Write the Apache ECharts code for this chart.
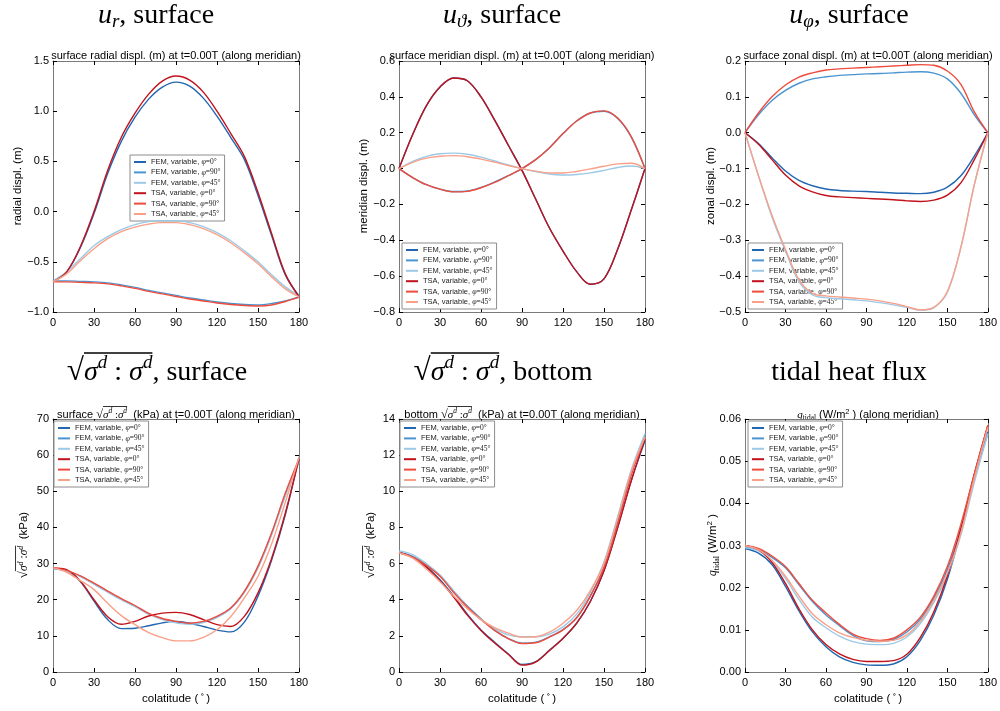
<!DOCTYPE html>
<html><head><meta charset="utf-8">
<script src="https://cdn.jsdelivr.net/npm/echarts@6.0.0/dist/echarts.min.js"></script>
<style>html,body{margin:0;padding:0;background:#fff}#c{width:1000px;height:711px}</style>
</head><body><div id="c"></div>
<script>
// ---------- data (colatitude in degrees) ----------
const THETA = [0,10,20,30,40,50,60,70,80,90,100,110,120,130,140,150,160,170,180];
const SERIES_NAMES = ['FEM, variable, φ=0°','FEM, variable, φ=90°','FEM, variable, φ=45°','TSA, variable, φ=0°','TSA, variable, φ=90°','TSA, variable, φ=45°'];

// u_r surface (m)
const UR_FEM_0  = [-0.69,-0.60,-0.36,-0.02,0.38,0.70,0.94,1.12,1.24,1.29,1.25,1.13,0.95,0.74,0.52,0.16,-0.24,-0.63,-0.84];
const UR_FEM_90 = [-0.69,-0.69,-0.695,-0.70,-0.71,-0.73,-0.755,-0.785,-0.81,-0.835,-0.86,-0.88,-0.90,-0.915,-0.925,-0.93,-0.915,-0.89,-0.85];
const UR_FEM_45 = [-0.69,-0.60,-0.47,-0.34,-0.25,-0.18,-0.13,-0.10,-0.09,-0.09,-0.11,-0.15,-0.21,-0.29,-0.39,-0.50,-0.63,-0.75,-0.84];
const UR_TSA_0  = [-0.70,-0.60,-0.35,0.00,0.41,0.74,0.98,1.17,1.30,1.35,1.31,1.19,1.00,0.78,0.55,0.19,-0.22,-0.62,-0.85];
const UR_TSA_90 = [-0.70,-0.70,-0.705,-0.71,-0.72,-0.74,-0.765,-0.795,-0.82,-0.845,-0.87,-0.89,-0.91,-0.925,-0.935,-0.94,-0.93,-0.895,-0.855];
const UR_TSA_45 = [-0.70,-0.62,-0.49,-0.37,-0.27,-0.20,-0.155,-0.125,-0.11,-0.11,-0.13,-0.17,-0.23,-0.31,-0.41,-0.52,-0.65,-0.77,-0.85];

// u_theta surface (m)
const UT_FEM_0  = [0,0.19,0.35,0.455,0.505,0.49,0.40,0.27,0.13,-0.01,-0.17,-0.33,-0.46,-0.575,-0.645,-0.615,-0.45,-0.23,0];
const UT_FEM_90 = [0,-0.05,-0.09,-0.115,-0.128,-0.125,-0.105,-0.075,-0.04,0,0.05,0.115,0.195,0.265,0.31,0.32,0.28,0.175,0];
const UT_FEM_45 = [0,0.04,0.068,0.083,0.086,0.08,0.064,0.042,0.02,0,-0.017,-0.03,-0.036,-0.033,-0.024,-0.01,0.006,0.014,0];
const UT_TSA_0  = [0,0.19,0.35,0.455,0.505,0.49,0.40,0.27,0.13,-0.01,-0.17,-0.33,-0.46,-0.575,-0.645,-0.615,-0.45,-0.23,0];
const UT_TSA_90 = [0,-0.05,-0.09,-0.115,-0.13,-0.127,-0.107,-0.077,-0.04,0,0.05,0.115,0.195,0.265,0.31,0.322,0.282,0.177,0];
const UT_TSA_45 = [0,0.035,0.058,0.069,0.072,0.066,0.053,0.036,0.017,0,-0.014,-0.024,-0.025,-0.016,-0.002,0.013,0.026,0.03,0];

// u_phi surface (m)
const UP_FEM_0  = [0,-0.03,-0.07,-0.107,-0.133,-0.148,-0.157,-0.161,-0.163,-0.164,-0.166,-0.168,-0.169,-0.17,-0.166,-0.152,-0.12,-0.065,0];
const UP_FEM_90 = [0,0.05,0.09,0.118,0.138,0.15,0.156,0.16,0.162,0.164,0.165,0.167,0.169,0.17,0.166,0.15,0.11,0.05,0];
const UP_FEM_45 = [0,-0.12,-0.235,-0.33,-0.415,-0.452,-0.46,-0.463,-0.466,-0.469,-0.474,-0.48,-0.487,-0.495,-0.488,-0.445,-0.32,-0.145,0];
const UP_TSA_0  = [0,-0.032,-0.075,-0.118,-0.148,-0.165,-0.175,-0.179,-0.181,-0.183,-0.185,-0.187,-0.19,-0.192,-0.188,-0.174,-0.14,-0.075,0];
const UP_TSA_90 = [0,0.055,0.10,0.133,0.155,0.167,0.175,0.178,0.18,0.182,0.184,0.186,0.188,0.19,0.188,0.172,0.135,0.058,0];
const UP_TSA_45 = [0,-0.12,-0.23,-0.325,-0.41,-0.448,-0.455,-0.458,-0.461,-0.464,-0.469,-0.476,-0.485,-0.494,-0.487,-0.443,-0.32,-0.145,0];

// sqrt(sigma_d : sigma_d) surface (kPa)
const SS_FEM_0  = [28.6,28.1,25.0,19.6,14.5,12.0,12.1,12.8,13.6,14.0,13.5,12.6,11.6,11.1,13.8,21.0,31.0,43.5,59.5];
const SS_FEM_90 = [28.6,28.0,26.5,24.4,22.2,20.1,18.2,16.1,14.7,13.9,13.4,13.8,15.2,17.6,22.2,29.0,38.3,49.0,58.5];
const SS_FEM_45 = [28.6,27.9,26.4,24.3,22.1,20.0,18.1,16.0,14.5,13.6,13.2,13.7,15.1,17.5,22.0,28.8,38.0,48.8,58.0];
const SS_TSA_0  = [28.8,28.3,25.2,20.0,15.3,13.2,14.0,15.5,16.3,16.5,15.9,14.5,13.1,12.6,15.4,21.9,31.5,44.0,59.0];
const SS_TSA_90 = [28.8,28.1,26.6,24.6,22.4,20.3,18.4,16.2,14.8,14.0,13.5,14.0,15.4,17.7,22.3,29.3,38.5,49.5,59.0];
const SS_TSA_45 = [28.8,27.6,25.3,22.8,19.0,15.6,13.1,10.9,9.5,8.6,8.6,9.6,11.7,15.3,20.5,26.5,35.5,47.0,59.5];

// sqrt(sigma_d : sigma_d) bottom (kPa)
const BS_FEM_0  = [6.6,6.35,5.85,5.1,4.2,3.2,2.33,1.65,1.0,0.42,0.57,1.2,1.87,2.7,3.9,5.6,8.0,10.6,12.8];
const BS_FEM_90 = [6.65,6.4,5.95,5.35,4.45,3.65,2.95,2.3,1.85,1.6,1.65,1.95,2.35,3.0,4.2,5.8,8.3,11.0,13.1];
const BS_FEM_45 = [6.7,6.5,6.0,5.35,4.5,3.6,2.9,2.4,2.05,1.95,1.95,2.1,2.5,3.2,4.4,6.1,8.6,11.2,13.2];
const BS_TSA_0  = [6.6,6.35,5.8,5.05,4.15,3.15,2.3,1.6,0.98,0.38,0.55,1.18,1.85,2.7,3.9,5.6,8.0,10.6,12.9];
const BS_TSA_90 = [6.6,6.35,5.9,5.3,4.4,3.6,2.9,2.3,1.85,1.58,1.62,1.93,2.33,3.0,4.2,5.8,8.2,10.9,13.0];
const BS_TSA_45 = [6.6,6.3,5.7,5.0,4.2,3.5,2.9,2.45,2.15,1.93,1.95,2.2,2.7,3.4,4.5,6.0,8.5,11.1,13.0];

// tidal heat flux (W/m^2)
const HF_FEM_0  = [0.0293,0.0282,0.0255,0.0203,0.0145,0.0095,0.006,0.0036,0.0023,0.0017,0.0016,0.0019,0.0036,0.0075,0.0135,0.022,0.0335,0.0465,0.057];
const HF_FEM_90 = [0.0295,0.029,0.0272,0.0247,0.0207,0.0167,0.0135,0.011,0.0087,0.0074,0.0072,0.0077,0.0095,0.0125,0.0175,0.0243,0.034,0.046,0.0565];
const HF_FEM_45 = [0.0295,0.0287,0.0262,0.0222,0.0172,0.013,0.0105,0.0085,0.0072,0.0066,0.0065,0.0068,0.0083,0.0115,0.0165,0.023,0.0325,0.045,0.0565];
const HF_TSA_0  = [0.030,0.029,0.026,0.021,0.015,0.010,0.0065,0.0043,0.003,0.0025,0.0025,0.0027,0.0042,0.0082,0.0143,0.0228,0.034,0.047,0.0585];
const HF_TSA_90 = [0.030,0.0293,0.0275,0.025,0.021,0.017,0.014,0.0113,0.009,0.0079,0.0075,0.008,0.010,0.013,0.018,0.025,0.035,0.047,0.0585];
const HF_TSA_45 = [0.030,0.029,0.0265,0.0227,0.018,0.0138,0.0112,0.0093,0.0082,0.0075,0.0073,0.0075,0.0088,0.012,0.017,0.0234,0.033,0.046,0.058];

// ---------- styling ----------
const SERIES_COLORS = ['#2166b0','#4a94d0','#9cc9e6','#c1121c','#ee4c3c','#f9a089'];
const SERIF = '"Liberation Serif","DejaVu Serif",serif';
const SANS = '"Liberation Sans","DejaVu Sans",sans-serif';
const FRAME = '#7a7a7a';

const PANELS = [
  {left:53,  top:61,  h:251, min:-1,   max:1.5,  step:0.5,  dec:1, data:[UR_FEM_0,UR_FEM_90,UR_FEM_45,UR_TSA_0,UR_TSA_90,UR_TSA_45], lg:[130,155]},
  {left:399, top:61,  h:251, min:-0.8, max:0.6,  step:0.2,  dec:1, data:[UT_FEM_0,UT_FEM_90,UT_FEM_45,UT_TSA_0,UT_TSA_90,UT_TSA_45], lg:[402,243]},
  {left:745, top:61,  h:251, min:-0.5, max:0.2,  step:0.1,  dec:1, data:[UP_FEM_0,UP_FEM_90,UP_FEM_45,UP_TSA_0,UP_TSA_90,UP_TSA_45], lg:[748,243]},
  {left:53,  top:419, h:253, min:0,    max:70,   step:10,   dec:0, data:[SS_FEM_0,SS_FEM_90,SS_FEM_45,SS_TSA_0,SS_TSA_90,SS_TSA_45], lg:[54,421]},
  {left:399, top:419, h:253, min:0,    max:14,   step:2,    dec:0, data:[BS_FEM_0,BS_FEM_90,BS_FEM_45,BS_TSA_0,BS_TSA_90,BS_TSA_45], lg:[400,421]},
  {left:745, top:419, h:253, min:0,    max:0.06, step:0.01, dec:2, data:[HF_FEM_0,HF_FEM_90,HF_FEM_45,HF_TSA_0,HF_TSA_90,HF_TSA_45], lg:[748,421]}
];
const GW = 246;

// ---------- small math-text typesetter for graphic labels ----------
const mctx = document.createElement('canvas').getContext('2d');
const KMID = 0.2;
function fontStr(p){ return (p.it ? 'italic ' : '') + p.size + 'px ' + (p.fam || SANS); }
function mathLabel(pieces, cx, cy, o) {
  o = o || {};
  let x = 0; const laid = [];
  pieces.forEach(p => { const f = fontStr(p); mctx.font = f; const w = mctx.measureText(p.t).width; laid.push({p, f, x, w}); x += w; });
  const total = x; const children = []; let ox0 = null, ox1 = null;
  laid.forEach(it => {
    const X = it.x - total / 2;
    children.push({type:'text', silent:true, style:{text: it.p.t, x: X, y: (it.p.dy || 0) - KMID * it.p.size, font: it.f, fill:'#000', align:'left', verticalAlign:'middle', textAlign:'left', textVerticalAlign:'middle'}});
    if (it.p.ov) { if (ox0 === null) ox0 = X; ox1 = X + it.w; }
  });
  if (ox0 !== null) children.push({type:'line', silent:true, shape:{x1: ox0 - (o.ovPad || 0), y1: o.ovY, x2: ox1 + (o.ovExt || 0), y2: o.ovY}, style:{stroke:'#000', lineWidth: o.ovW || 1}});
  return {type:'group', x: cx, y: cy, rotation: o.rot || 0, children};
}
const T = (t, size, extra) => Object.assign({t, size}, extra || {});

function sqrtPieces(s, small, sub, fam) {
  return [
    T('√', s * 1.12, {fam: SERIF}),
    T('σ', s, {fam: SERIF, it: true, ov: true}),
    T('d', small, {fam: SERIF, it: true, dy: -sub, ov: true}),
    T(fam === 'title' ? ' : ' : ' :', s, {fam: SERIF, ov: true}),
    T('σ', s, {fam: SERIF, it: true, ov: true}),
    T('d', small, {fam: SERIF, it: true, dy: -sub, ov: true})
  ];
}

const graphics = [];
// main titles
const MT = 28, MS = 19;
graphics.push(mathLabel([T('u', MT, {fam:SERIF, it:true}), T('r', MS, {fam:SERIF, it:true, dy:5}), T(', surface', MT, {fam:SERIF})], 156, 21));
graphics.push(mathLabel([T('u', MT, {fam:SERIF, it:true}), T('ϑ', MS, {fam:SERIF, it:true, dy:5}), T(', surface', MT, {fam:SERIF})], 502, 21));
graphics.push(mathLabel([T('u', MT, {fam:SERIF, it:true}), T('φ', MS, {fam:SERIF, it:true, dy:5}), T(', surface', MT, {fam:SERIF})], 849, 21));
graphics.push(mathLabel(sqrtPieces(MT, MS, 11, 'title').concat([T(', surface', MT, {fam:SERIF})]), 157, 378, {ovY:-25, ovW:1.4}));
graphics.push(mathLabel(sqrtPieces(MT, MS, 11, 'title').concat([T(', bottom', MT, {fam:SERIF})]), 503, 378, {ovY:-25, ovW:1.4}));
graphics.push(mathLabel([T('tidal heat flux', MT, {fam:SERIF})], 849, 378));

// subtitles
const ST = 11;
graphics.push(mathLabel([T('surface radial displ. (m) at t=0.00T (along meridian)', ST)], 53 + GW/2, 58.5));
graphics.push(mathLabel([T('surface meridian displ. (m) at t=0.00T (along meridian)', ST)], 399 + GW/2, 58.5));
graphics.push(mathLabel([T('surface zonal displ. (m) at t=0.00T (along meridian)', ST)], 745 + GW/2, 58.5));
graphics.push(mathLabel([T('surface ', ST)].concat(sqrtPieces(ST, 7.5, 4, 'sub')).concat([T('  (kPa) at t=0.00T (along meridian)', ST)]), 53 + GW/2, 417, {ovY:-10.5, ovW:0.8}));
graphics.push(mathLabel([T('bottom ', ST)].concat(sqrtPieces(ST, 7.5, 4, 'sub')).concat([T('  (kPa) at t=0.00T (along meridian)', ST)]), 399 + GW/2, 417, {ovY:-10.5, ovW:0.8}));
graphics.push(mathLabel([T('q', ST, {fam:SERIF, it:true}), T('tidal', 7.5, {fam:SERIF, dy:3}), T(' (W/m', ST), T('2', 7.5, {dy:-4}), T(' ) (along meridian)', ST)], 745 + GW/2, 417));

// y-axis names (rotated)
const YN = 11.5, ROT = Math.PI / 2, YOFF = 0.35 * YN;
graphics.push(mathLabel([T('radial displ. (m)', YN)], 16 + YOFF, 186, {rot:ROT}));
graphics.push(mathLabel([T('meridian displ. (m)', YN)], 362 + YOFF, 186, {rot:ROT}));
graphics.push(mathLabel([T('zonal displ. (m)', YN)], 709 + YOFF, 186, {rot:ROT}));
graphics.push(mathLabel(sqrtPieces(YN, 8, 4, 'sub').concat([T('  (kPa)', YN)]), 22 + YOFF, 545, {rot:ROT, ovY:-10.5, ovW:0.8}));
graphics.push(mathLabel(sqrtPieces(YN, 8, 4, 'sub').concat([T('  (kPa)', YN)]), 369 + YOFF, 545, {rot:ROT, ovY:-10.5, ovW:0.8}));
graphics.push(mathLabel([T('q', YN, {fam:SERIF, it:true}), T('tidal', 8, {fam:SERIF, dy:3}), T(' (W/m', YN), T('2', 8, {dy:-4}), T(' )', YN)], 711 + YOFF, 545, {rot:ROT}));

// x-axis names (bottom row)
[53, 399, 745].forEach(l => graphics.push(mathLabel([T('colatitude (', YN), T(' ∘ ', 8, {fam:SERIF, dy:-4}), T(')', YN)], l + GW/2, 701)));

// ---------- axes / series ----------
const grid = [], xAxis = [], yAxis = [], series = [], legend = [];
const tickStyle = {show:true, inside:true, length:4, lineStyle:{color:'#000', width:1}};
const lineStyleAxis = {show:true, onZero:false, lineStyle:{color:FRAME, width:1}};
PANELS.forEach((p, i) => {
  grid.push({left:p.left, top:p.top, width:GW, height:p.h, show:false, containLabel:false});
  const xBase = {gridIndex:i, type:'value', min:0, max:180, interval:30, axisLine:lineStyleAxis, axisTick:tickStyle, splitLine:{show:false}};
  xAxis.push(Object.assign({}, xBase, {position:'bottom', axisLabel:{show:true, fontSize:11, color:'#000', margin:5, fontFamily:SANS}}));
  xAxis.push(Object.assign({}, xBase, {position:'top', axisLabel:{show:false}}));
  const yBase = {gridIndex:i, type:'value', min:p.min, max:p.max, interval:p.step, axisLine:lineStyleAxis, axisTick:tickStyle, splitLine:{show:false}};
  yAxis.push(Object.assign({}, yBase, {position:'left', axisLabel:{show:true, fontSize:11, color:'#000', margin:4, fontFamily:SANS,
    formatter: v => { const s = Number(v).toFixed(p.dec); return (Math.abs(Number(v)) < 1e-9 ? (0).toFixed(p.dec) : s).replace('-', '−'); }}}));
  yAxis.push(Object.assign({}, yBase, {position:'right', axisLabel:{show:false}}));
  p.data.forEach((arr, k) => {
    series.push({type:'line', name:SERIES_NAMES[k], xAxisIndex:2*i, yAxisIndex:2*i,
      data: THETA.map((t, j) => [t, arr[j]]), symbol:'none', showSymbol:false, smooth:0.35,
      color:SERIES_COLORS[k], itemStyle:{color:SERIES_COLORS[k]}, lineStyle:{width:1.4, color:SERIES_COLORS[k]},
      silent:true, z:2 + k});
  });
  legend.push({data:SERIES_NAMES, orient:'vertical', left:p.lg[0], top:p.lg[1], icon:'rect', itemWidth:12, itemHeight:2,
    itemGap:2.4, padding:[3,4,3,4], borderColor:'#8c8c8c', borderWidth:1, backgroundColor:'#fff', selectedMode:false,
    textStyle:{fontSize:7.5, color:'#222', fontFamily:SANS, rich:{
      s:{fontSize:7.5, fontFamily:SANS, color:'#222', lineHeight:8.5},
      p:{fontSize:8, fontFamily:SERIF, fontStyle:'italic', color:'#222', lineHeight:8.5},
      m:{fontSize:7.5, fontFamily:SERIF, color:'#222', lineHeight:8.5}}},
    formatter: name => { const parts = name.split('φ'); return '{s|' + parts[0] + '}{p|φ}{m|' + parts[1] + '}'; }
  });
});

const chart = echarts.init(document.getElementById('c'), null, {renderer:'canvas'});
chart.setOption({animation:false, backgroundColor:'#fff', grid, xAxis, yAxis, series, legend, graphic:{elements:graphics}});
</script></body></html>
